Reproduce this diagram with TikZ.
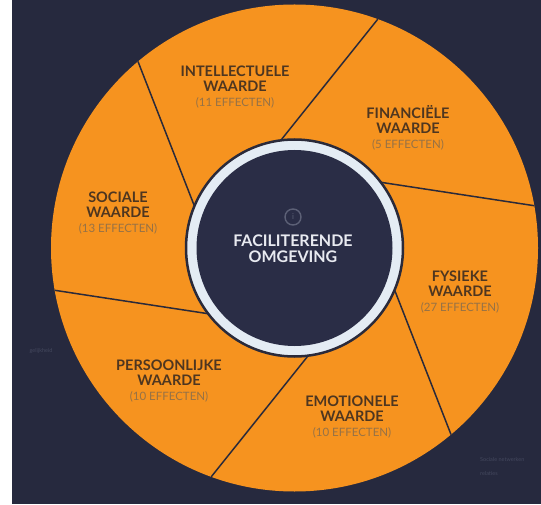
\documentclass[tikz,border=0pt]{standalone}
\usepackage{fontspec}
\setmainfont{Lato}
\usepackage{tikz}
\usetikzlibrary{
  calc,
  positioning}

\definecolor{nachtblauw}{RGB}{38,41,62}
\definecolor{kern}{RGB}{42,45,70}
\definecolor{oranje}{RGB}{246,147,31}
\definecolor{lijn}{RGB}{42,42,58}
\definecolor{ringwit}{RGB}{228,236,244}
\definecolor{titelbruin}{RGB}{78,54,32}
\definecolor{subbruin}{RGB}{150,114,70}
\definecolor{tekstwit}{RGB}{232,234,240}
\definecolor{icoongrijs}{RGB}{92,96,118}
\definecolor{vaag}{RGB}{68,72,94}

\newcommand{\effecten}[1]{{\mdseries\color{subbruin}\fontsize{11.5}{14.5}\selectfont #1}}

\begin{document}
\begin{tikzpicture}[x=1pt,y=1pt,
    waarde/.style={align=center,text=titelbruin,font=\bfseries\fontsize{14.5}{15}\selectfont},
    scheiding/.style={draw=lijn,line width=1.5},
    vaagtekst/.style={text=vaag,font=\fontsize{5.5}{7}\selectfont,inner sep=0}]
        \useasboundingbox (0,0) rectangle (541,504);
        \fill[white] (0,0) rectangle (12,504);
        \fill[nachtblauw] (12,0) rectangle (541,504);
        \node (gelijk) at (41,153) [vaagtekst] {gelijkheid};
        \node (netwerk) at (480,45) [vaagtekst,anchor=west] {Sociale netwerken};
        \node (relatie) at (480,31) [vaagtekst,anchor=west] {relaties};
        \coordinate (c) at (294.5,256);
        \fill[oranje] (c) circle (243.5);
        \draw[scheiding] ($(c)+(97:109)$)--($(c)+(70:243.5)$);
        \draw[scheiding] ($(c)+(37:109)$)--($(c)+(10:243.5)$);
        \draw[scheiding] ($(c)+(-23:109)$)--($(c)+(-50:243.5)$);
        \draw[scheiding] ($(c)+(-83:109)$)--($(c)+(-110:243.5)$);
        \draw[scheiding] ($(c)+(-143:109)$)--($(c)+(-170:243.5)$);
        \draw[scheiding] ($(c)+(157:109)$)--($(c)+(130:243.5)$);
        \filldraw[fill=ringwit,draw=lijn,line width=2.5] (c) circle (108.5);
        \fill[kern] (c) circle (98);
        \node (info) at (293,287) [circle,draw=icoongrijs,line width=1.4,minimum size=16,inner sep=0,text=icoongrijs,font=\fontsize{8}{9}\selectfont] {i};
        \node (midden) at (293,255) [align=center,text=tekstwit,font=\bfseries\fontsize{16}{16}\selectfont] {FACILITERENDE\\OMGEVING};
        \node (intel) at (235,416.5) [waarde] {INTELLECTUELE\\WAARDE\\\effecten{(11 EFFECTEN)}};
        \node (financ) at (408,376) [waarde] {FINANCIËLE\\WAARDE\\\effecten{(5 EFFECTEN)}};
        \node (fysiek) at (460,212) [waarde] {FYSIEKE\\WAARDE\\\effecten{(27 EFFECTEN)}};
        \node (emotie) at (352,87) [waarde] {EMOTIONELE\\WAARDE\\\effecten{(10 EFFECTEN)}};
        \node (persoon) at (169,123) [waarde] {PERSOONLIJKE\\WAARDE\\\effecten{(10 EFFECTEN)}};
        \node (sociaal) at (118,291) [waarde] {SOCIALE\\WAARDE\\\effecten{(13 EFFECTEN)}};
    \end{tikzpicture}
\end{document}
